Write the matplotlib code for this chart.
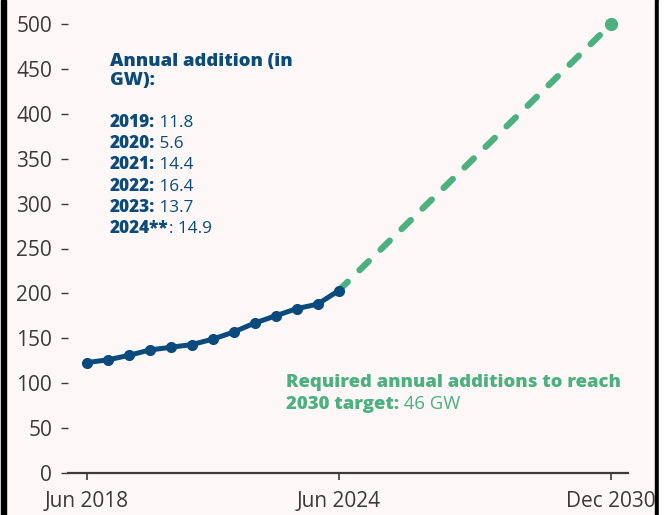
import matplotlib.pyplot as plt
from matplotlib.patches import Rectangle

# Installed capacity (GW), half-yearly, Jun 2018 - Jun 2024
hist_x = [2018.5, 2019.0, 2019.5, 2020.0, 2020.5, 2021.0, 2021.5,
          2022.0, 2022.5, 2023.0, 2023.5, 2024.0, 2024.5]
hist_y = [123, 126, 131, 137, 140, 143, 149, 157, 167, 175, 183, 188, 203]

# Path to the 2030 target
target_x = [2024.5, 2031.0]
target_y = [203, 500]

xtick_pos = [2018.5, 2024.5, 2031.0]
xtick_labels = ["Jun 2018", "Jun 2024", "Dec 2030"]
ytick_pos = [0, 50, 100, 150, 200, 250, 300, 350, 400, 450, 500]

years = ["2019:", "2020:", "2021:", "2022:", "2023:", "2024**"]
additions = [" 11.8", " 5.6", " 14.4", " 16.4", " 13.7", ": 14.9"]

BLUE = "#0b4a7d"
GREEN = "#4cb07f"
BG = "#fdf7f7"
GREY = "#3a3a3a"

plt.rcParams['font.family'] = ['Open Sans', 'DejaVu Sans']

W, H = 665, 515
fig = plt.figure(figsize=(W / 100, H / 100), dpi=100)
fig.patch.set_facecolor(BG)
ax = fig.add_axes([68 / W, 1 - 473 / H, (628 - 68) / W, (473 - 24) / H])
ax.set_facecolor(BG)

ax.plot(target_x, target_y, color=GREEN, lw=4.6, ls=(0, (2.0, 2.6)),
        dash_capstyle='round', zorder=2, clip_on=False)
ax.plot(target_x[-1:], target_y[-1:], 'o', color=GREEN, ms=8.5,
        zorder=3, clip_on=False)
ax.plot(hist_x, hist_y, color=BLUE, lw=3.6, marker='o', ms=7,
        solid_capstyle='round', zorder=4, clip_on=False)

ax.set_xlim(2018.05, 2031.4)
ax.set_ylim(0, 500)
for side in ["left", "right", "top"]:
    ax.spines[side].set_visible(False)
ax.spines["bottom"].set_color(GREY)
ax.spines["bottom"].set_linewidth(1.6)

ax.set_xticks(xtick_pos)
ax.set_xticklabels(xtick_labels)
ax.set_yticks(ytick_pos)
ax.tick_params(axis='x', direction='out', length=5, width=1.2, color=GREY,
               pad=8, labelsize=15, labelcolor=GREY)
ax.tick_params(axis='y', direction='out', length=5, width=1.0, color=GREY,
               pad=6.5, labelsize=15, labelcolor=GREY)

# Annual additions list
ax.text(110 / W, 1 - 85 / H, "Annual addition (in\nGW):", transform=fig.transFigure,
        color=BLUE, fontsize=13.3, fontweight='heavy', linespacing=1.15)
for i, (yr, val) in enumerate(zip(years, additions)):
    t = ax.text(110 / W, 1 - (127 + i * 21.2) / H, yr, transform=fig.transFigure,
                color=BLUE, fontsize=12.3, fontweight='heavy')
    ax.annotate(val, xy=(1, 0), xycoords=t, va='bottom', ha='left',
                color=BLUE, fontsize=12.3)

# Target note
ax.text(286 / W, 1 - 387 / H, "Required annual additions to reach",
        transform=fig.transFigure, color=GREEN, fontsize=13.3, fontweight='heavy')
t2 = ax.text(286 / W, 1 - 409 / H, "2030 target:", transform=fig.transFigure,
             color=GREEN, fontsize=13.3, fontweight='heavy')
ax.annotate(" 46 GW", xy=(1, 0), xycoords=t2, va='bottom', ha='left',
            color=GREEN, fontsize=13.3)

# Frame edges
fig.patches.append(Rectangle((0.5 / W, 0), 2 / W, 1, transform=fig.transFigure,
                             color='black', zorder=10))
fig.patches.append(Rectangle((4 / W, 0), 1.5 / W, 1, transform=fig.transFigure,
                             color='black', zorder=10))
fig.patches.append(Rectangle((655 / W, 0), 4 / W, 1, transform=fig.transFigure,
                             color='black', zorder=10))
fig.patches.append(Rectangle((659 / W, 0), 6 / W, 1, transform=fig.transFigure,
                             color='white', zorder=10))

fig.savefig("out.png", dpi=100, facecolor=BG)
